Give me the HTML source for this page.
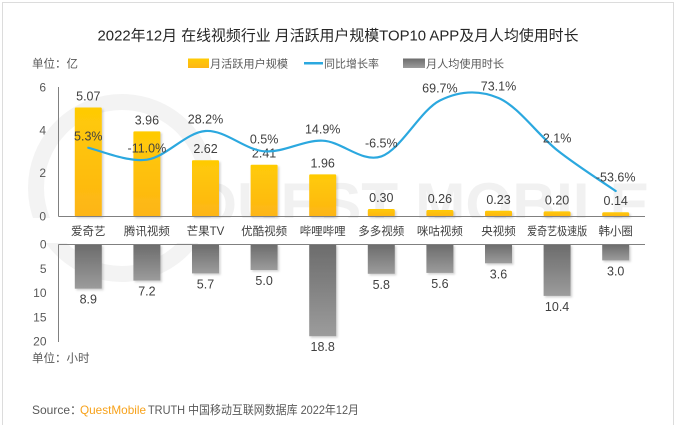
<!DOCTYPE html>
<html><head><meta charset="utf-8"><style>
html,body{margin:0;padding:0;background:#fff;}
svg{display:block;}
text{font-family:"Liberation Sans","Noto Sans CJK SC",sans-serif;}
</style></head><body>
<svg width="676" height="425" viewBox="0 0 676 425" xmlns="http://www.w3.org/2000/svg">
<defs>
<linearGradient id="gy" x1="0" y1="0" x2="0" y2="1"><stop offset="0" stop-color="#FFCB05"/><stop offset="1" stop-color="#FDB515"/></linearGradient>
<linearGradient id="gg" x1="0" y1="0" x2="0" y2="1"><stop offset="0" stop-color="#6c6c6c"/><stop offset="1" stop-color="#9c9c9c"/></linearGradient>
<filter id="sh" x="-20%" y="-20%" width="150%" height="150%"><feDropShadow dx="1.5" dy="1.5" stdDeviation="1" flood-color="#000" flood-opacity="0.18"/></filter>
</defs>
<rect x="0" y="0" width="676" height="425" fill="#fff"/>
<rect x="2.5" y="2.5" width="671" height="440" fill="none" stroke="#dcdcdc" stroke-width="1"/>

<!-- watermark -->
<circle cx="122" cy="188" r="86" fill="none" stroke="#f3f3f3" stroke-width="16"/>
<text x="190" y="225" font-size="60" font-weight="bold" fill="#f1f1f1" textLength="460" lengthAdjust="spacingAndGlyphs">QUEST MOBILE</text>
<rect x="3" y="218" width="660" height="25" fill="#fff"/>

<!-- title -->
<text x="338" y="40.5" font-size="15" fill="#262626" text-anchor="middle" textLength="481" lengthAdjust="spacingAndGlyphs">2022年12月 在线视频行业 月活跃用户规模TOP10 APP及月人均使用时长</text>

<!-- legend -->
<text x="32" y="67.5" font-size="11.5" fill="#595959">单位：亿</text>
<rect x="188" y="58.5" width="21" height="9.5" fill="url(#gy)"/>
<text x="210" y="67.5" font-size="11" fill="#595959" textLength="78" lengthAdjust="spacingAndGlyphs">月活跃用户规模</text>
<line x1="304" y1="63.3" x2="323" y2="63.3" stroke="#2BA8DF" stroke-width="2.5"/>
<text x="324" y="67.5" font-size="11" fill="#595959" textLength="55" lengthAdjust="spacingAndGlyphs">同比增长率</text>
<rect x="403" y="58.5" width="22" height="9.5" fill="url(#gg)"/>
<text x="426" y="67.5" font-size="11" fill="#595959" textLength="78" lengthAdjust="spacingAndGlyphs">月人均使用时长</text>

<!-- top axis -->
<line x1="58.5" y1="87" x2="58.5" y2="216.5" stroke="#808080" stroke-width="1"/>
<g font-size="12" fill="#595959" text-anchor="end">
<text x="46" y="91.5">6</text>
<text x="46" y="134.5">4</text>
<text x="46" y="177">2</text>
<text x="46" y="220.5">0</text>
</g>

<!-- top bars -->
<g fill="url(#gy)" filter="url(#sh)">
<rect x="74.8" y="107.5" width="27" height="109" rx="1"/>
<rect x="133.4" y="131.4" width="27" height="85.1" rx="1"/>
<rect x="192" y="160.2" width="27" height="56.3" rx="1"/>
<rect x="250.6" y="164.7" width="27" height="51.8" rx="1"/>
<rect x="309.2" y="174.4" width="27" height="42.1" rx="1"/>
<rect x="367.8" y="209" width="27" height="7.5" rx="1.5"/>
<rect x="426.4" y="210" width="27" height="6.5" rx="1.5"/>
<rect x="485" y="210.8" width="27" height="5.7" rx="1.5"/>
<rect x="543.6" y="211.4" width="27" height="5.1" rx="1.5"/>
<rect x="602.2" y="212.2" width="27" height="4.3" rx="1.5"/>
</g>
<line x1="58.5" y1="216.5" x2="645" y2="216.5" stroke="#808080" stroke-width="1"/>

<g font-size="12.5" fill="#404040" text-anchor="middle">
<text x="88.3" y="100.5">5.07</text>
<text x="146.9" y="124.4">3.96</text>
<text x="205.5" y="153.2">2.62</text>
<text x="264.1" y="157.7">2.41</text>
<text x="322.7" y="167.4">1.96</text>
<text x="381.3" y="202">0.30</text>
<text x="439.9" y="203">0.26</text>
<text x="498.5" y="203.8">0.23</text>
<text x="557.1" y="204.4">0.20</text>
<text x="615.7" y="205.2">0.14</text>
</g>

<!-- growth line -->
<path d="M88.3,147.8 C98.07,149.78 127.37,162.5 146.9,159.7 C166.43,156.9 185.97,132.4 205.5,131.0 C225.03,129.6 244.57,149.68 264.1,151.3 C283.63,152.92 303.17,139.85 322.7,140.7 C342.23,141.55 361.77,163.1 381.3,156.4 C400.83,149.7 420.37,110.23 439.9,100.5 C459.43,90.77 478.97,89.73 498.5,98.0 C518.03,106.27 537.57,134.6 557.1,150.1 C576.63,165.6 605.93,184.18 615.7,191.0" fill="none" stroke="#2BA8DF" stroke-width="2.2" stroke-linecap="round"/>
<g font-size="12.5" fill="#404040" text-anchor="middle">
<text x="88.3" y="140.5">5.3%</text>
<text x="146.9" y="152.5">-11.0%</text>
<text x="205.5" y="123.5">28.2%</text>
<text x="264.1" y="143.5">0.5%</text>
<text x="322.7" y="133.5">14.9%</text>
<text x="381.3" y="147.5">-6.5%</text>
<text x="439.9" y="92.5">69.7%</text>
<text x="498.5" y="90.5">73.1%</text>
<text x="557.1" y="142.5">2.1%</text>
<text x="615.7" y="181.5">-53.6%</text>
</g>

<!-- category labels -->
<g font-size="11.5" fill="#404040" text-anchor="middle">
<text x="88.3" y="235">爱奇艺</text>
<text x="146.9" y="235">腾讯视频</text>
<text x="205.5" y="235">芒果TV</text>
<text x="264.1" y="235">优酷视频</text>
<text x="322.7" y="235">哔哩哔哩</text>
<text x="381.3" y="235">多多视频</text>
<text x="439.9" y="235">咪咕视频</text>
<text x="498.5" y="235">央视频</text>
<text x="557.1" y="235" textLength="60" lengthAdjust="spacingAndGlyphs">爱奇艺极速版</text>
<text x="615.7" y="235">韩小圈</text>
</g>

<!-- bottom bars -->
<g fill="url(#gg)" filter="url(#sh)">
<rect x="74.8" y="244.5" width="27" height="44.2"/>
<rect x="133.4" y="244.5" width="27" height="36.1"/>
<rect x="192" y="244.5" width="27" height="28.9"/>
<rect x="250.6" y="244.5" width="27" height="25.5"/>
<rect x="309.2" y="244.5" width="27" height="91.7"/>
<rect x="367.8" y="244.5" width="27" height="29.3"/>
<rect x="426.4" y="244.5" width="27" height="28.4"/>
<rect x="485" y="244.5" width="27" height="18.8"/>
<rect x="543.6" y="244.5" width="27" height="51.4"/>
<rect x="602.2" y="244.5" width="27" height="15.9"/>
</g>
<line x1="58.5" y1="244.5" x2="645" y2="244.5" stroke="#808080" stroke-width="1"/>
<line x1="58.5" y1="244.5" x2="58.5" y2="342" stroke="#808080" stroke-width="1"/>
<g font-size="12" fill="#595959" text-anchor="end">
<text x="46.5" y="248.5">0</text>
<text x="46.5" y="273">5</text>
<text x="46.5" y="297">10</text>
<text x="46.5" y="321.5">15</text>
<text x="46.5" y="345.5">20</text>
</g>
<g font-size="12.5" fill="#404040" text-anchor="middle">
<text x="88.3" y="303.7">8.9</text>
<text x="146.9" y="295.6">7.2</text>
<text x="205.5" y="288.4">5.7</text>
<text x="264.1" y="285">5.0</text>
<text x="322.7" y="351.2">18.8</text>
<text x="381.3" y="288.8">5.8</text>
<text x="439.9" y="287.9">5.6</text>
<text x="498.5" y="278.3">3.6</text>
<text x="557.1" y="310.9">10.4</text>
<text x="615.7" y="275.4">3.0</text>
</g>

<text x="32" y="362" font-size="11.5" fill="#595959">单位：小时</text>

<!-- source -->
<text x="32" y="414" font-size="12" fill="#595959">Source：</text>
<text x="80" y="414" font-size="12" fill="#F7A21B" textLength="66" lengthAdjust="spacingAndGlyphs">QuestMobile</text>
<text x="148" y="414" font-size="12" fill="#595959" textLength="211" lengthAdjust="spacingAndGlyphs">TRUTH 中国移动互联网数据库 2022年12月</text>
</svg>
</body></html>
